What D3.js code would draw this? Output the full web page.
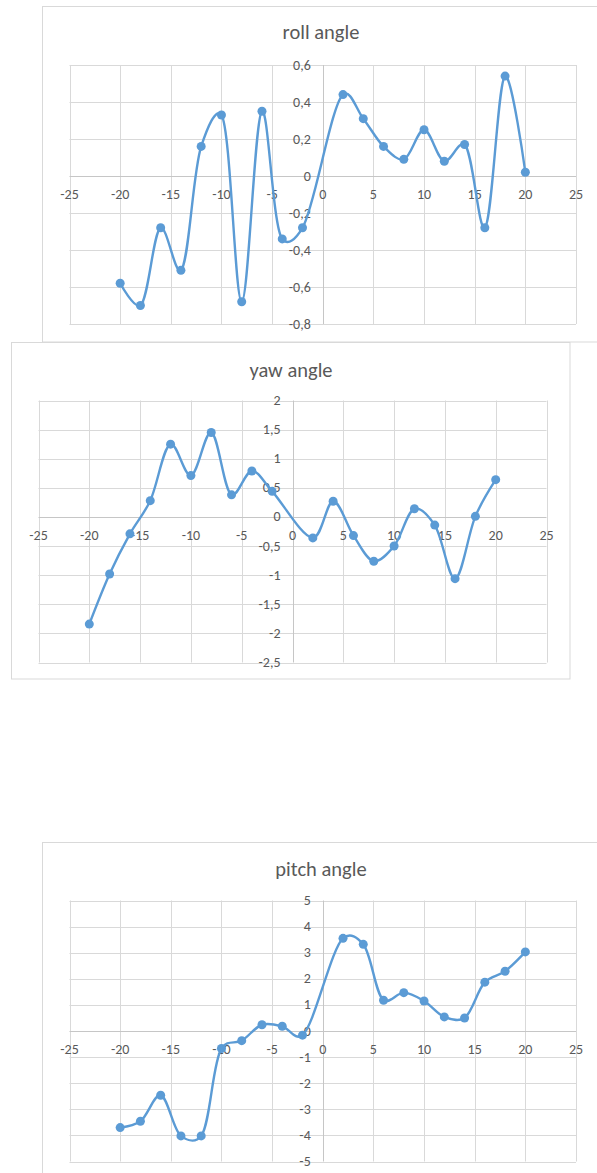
<!DOCTYPE html>
<html>
<head>
<meta charset="utf-8">
<script src="https://cdn.jsdelivr.net/npm/d3@7"></script>
<style>
  html, body { margin: 0; padding: 0; background: #ffffff; }
  svg { display: block; }
  text { font-family: Carlito, Calibri, Lato, "Open Sans", sans-serif; fill: #595959; }
</style>
</head>
<body>
<svg id="chart" width="597" height="1173"></svg>
<script>
// Sample positions shared by all three angle series
const positions = [-20, -18, -16, -14, -12, -10, -8, -6, -4, -2, 2, 4, 6, 8, 10, 12, 14, 16, 18, 20];

// Angle series
const rollValues  = [-0.58, -0.70, -0.28, -0.51, 0.16, 0.33, -0.68, 0.35, -0.34, -0.28,
                      0.44, 0.31, 0.16, 0.09, 0.25, 0.08, 0.17, -0.28, 0.54, 0.02];
const yawValues   = [-1.84, -0.98, -0.29, 0.28, 1.25, 0.71, 1.45, 0.38, 0.79, 0.44,
                     -0.36, 0.27, -0.32, -0.76, -0.50, 0.14, -0.14, -1.06, 0.01, 0.64];
const pitchValues = [-3.70, -3.46, -2.46, -4.02, -4.02, -0.67, -0.37, 0.24, 0.18, -0.16,
                      3.55, 3.32, 1.18, 1.47, 1.15, 0.54, 0.50, 1.87, 2.29, 3.03];

// Axis ticks
const xTicks      = [-25, -20, -15, -10, -5, 0, 5, 10, 15, 20, 25];
const rollTicks   = [-0.8, -0.6, -0.4, -0.2, 0, 0.2, 0.4, 0.6];
const yawTicks    = [-2.5, -2, -1.5, -1, -0.5, 0, 0.5, 1, 1.5, 2];
const pitchTicks  = [-5, -4, -3, -2, -1, 0, 1, 2, 3, 4, 5];

const svg = d3.select("#chart");
const lineColor = "#5b9bd5";

// decimal comma, as in the workbook locale
const fmt = v => String(Math.round(v * 10) / 10).replace(".", ",");

const panels = [
  { title: "roll angle",  values: rollValues,  yTicks: rollTicks,
    box: [42.5, 6.5, 600, 335.5], titleXY: [321, 32],
    xr: [69.5, 576], yr: [324, 65] },
  { title: "pitch angle", values: pitchValues, yTicks: pitchTicks,
    box: [42.5, 842.5, 600, 400], titleXY: [321, 869],
    xr: [69.5, 576], yr: [1161.5, 900.5] },
  { title: "yaw angle",   values: yawValues,   yTicks: yawTicks,
    box: [11.5, 342.5, 558.5, 336.5], titleXY: [291, 370],
    xr: [38.5, 546.5], yr: [662.5, 400.5] }
];

panels.forEach(p => {
  const g = svg.append("g");
  const yDomain = d3.extent(p.yTicks);

  // chart frame
  g.append("rect")
    .attr("x", p.box[0]).attr("y", p.box[1])
    .attr("width", p.box[2]).attr("height", p.box[3])
    .attr("fill", "#ffffff").attr("stroke", "#d9d9d9").attr("stroke-width", 1);

  const x = d3.scaleLinear().domain([-25, 25]).range(p.xr);
  const y = d3.scaleLinear().domain(yDomain).range(p.yr);

  // vertical gridlines
  g.append("g").selectAll("line").data(xTicks.filter(t => t !== 0)).join("line")
    .attr("x1", d => Math.round(x(d)) + 0.5).attr("x2", d => Math.round(x(d)) + 0.5)
    .attr("y1", y(yDomain[0])).attr("y2", y(yDomain[1]))
    .attr("stroke", "#d9d9d9").attr("stroke-width", 1);

  // horizontal gridlines
  g.append("g").selectAll("line").data(p.yTicks.filter(t => t !== 0)).join("line")
    .attr("x1", x(-25)).attr("x2", x(25))
    .attr("y1", d => Math.round(y(d)) + 0.5).attr("y2", d => Math.round(y(d)) + 0.5)
    .attr("stroke", "#d9d9d9").attr("stroke-width", 1);

  // axes through the origin
  g.append("line")
    .attr("x1", Math.round(x(0)) + 0.5).attr("x2", Math.round(x(0)) + 0.5)
    .attr("y1", y(yDomain[0])).attr("y2", y(yDomain[1]))
    .attr("stroke", "#c6c6c6").attr("stroke-width", 1);
  g.append("line")
    .attr("x1", x(-25)).attr("x2", x(25))
    .attr("y1", Math.round(y(0)) + 0.5).attr("y2", Math.round(y(0)) + 0.5)
    .attr("stroke", "#c6c6c6").attr("stroke-width", 1);

  // x tick labels below the horizontal axis
  g.append("g").selectAll("text").data(xTicks).join("text")
    .attr("x", d => x(d)).attr("y", y(0) + 18.5)
    .attr("text-anchor", "middle").attr("dominant-baseline", "central")
    .attr("font-size", 14)
    .text(d => d);

  // y tick labels left of the vertical axis
  g.append("g").selectAll("text").data(p.yTicks).join("text")
    .attr("x", x(0) - 12).attr("y", d => y(d))
    .attr("text-anchor", "end").attr("dominant-baseline", "central")
    .attr("font-size", 14)
    .text(d => fmt(d));

  // title
  g.append("text")
    .attr("x", p.titleXY[0]).attr("y", p.titleXY[1])
    .attr("text-anchor", "middle").attr("dominant-baseline", "central")
    .attr("font-size", 20.5)
    .text(p.title);

  // smoothed series line
  const pts = positions.map((pos, i) => [pos, p.values[i]]);
  const line = d3.line()
    .x(d => x(d[0])).y(d => y(d[1]))
    .curve(d3.curveCatmullRom.alpha(0.3));
  g.append("path").datum(pts)
    .attr("d", line)
    .attr("fill", "none").attr("stroke", lineColor)
    .attr("stroke-width", 2.4).attr("stroke-linejoin", "round").attr("stroke-linecap", "round");

  // markers
  g.append("g").selectAll("circle").data(pts).join("circle")
    .attr("cx", d => x(d[0])).attr("cy", d => y(d[1]))
    .attr("r", 4.5).attr("fill", lineColor);
});
</script>
</body>
</html>
